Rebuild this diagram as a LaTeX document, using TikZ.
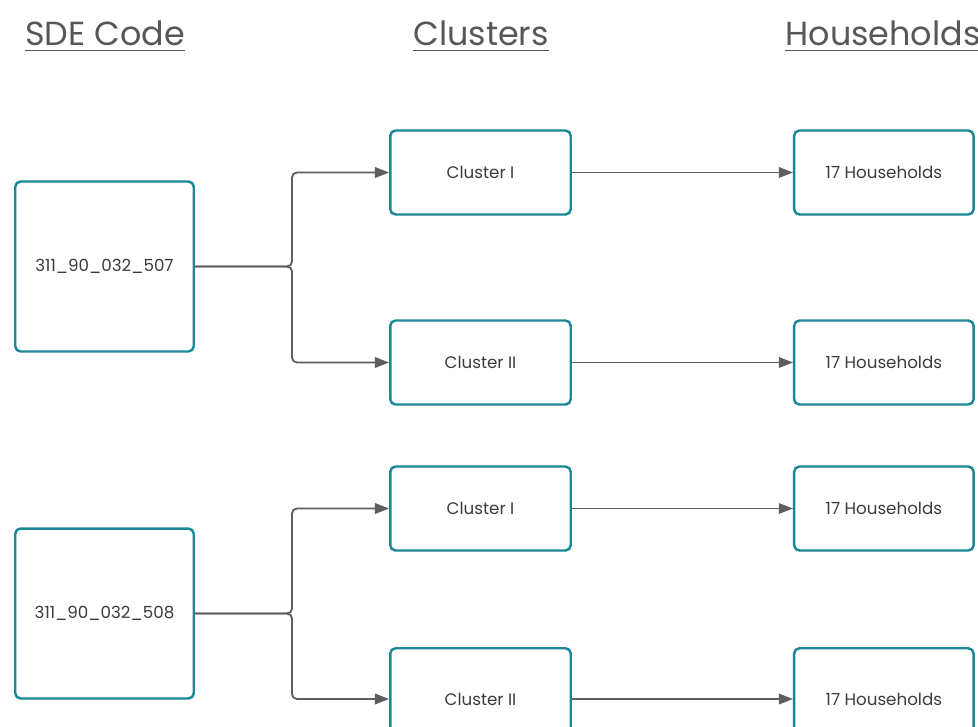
\documentclass[tikz,border=0pt]{standalone}
\usepackage{fontspec}
\setmainfont{Poppins}
\usetikzlibrary{arrows.meta,positioning}

\definecolor{boxteal}{HTML}{1B8797}
\definecolor{boxtext}{HTML}{3C3C3C}
\definecolor{headgray}{HTML}{575757}
\definecolor{arrowgray}{HTML}{5E5E5E}

\begin{document}
\begin{tikzpicture}
		[x=0.02cm, y=-0.02cm,
		box/.style={draw=boxteal, line width=1.4pt, rounded corners=3pt,
			fill=white, text=boxtext, inner sep=0pt,
			font=\fontsize{9.5}{11}\selectfont},
		sdebox/.style={box, minimum width=3.57cm, minimum height=3.4cm},
		clusterbox/.style={box, minimum width=3.61cm, minimum height=1.68cm},
		hhbox/.style={box, minimum width=3.59cm, minimum height=1.68cm},
		header/.style={anchor=base, inner sep=0pt, text=headgray,
			font=\fontsize{19}{22}\selectfont},
		uline/.style={draw=headgray, line width=1.1pt},
		link/.style={draw=arrowgray, line width=1.05pt, rounded corners=2.8pt,
			-{Triangle[length=8pt,width=6pt]}},
		thinlink/.style={link, line width=0.6pt}]
		\clip (0,0) rectangle (978,727);
		\fill[white] (0,0) rectangle (978,727);
		% column headers
		\node[header] (hdSde) at (105,45) {SDE Code};
		\node[header] (hdCluster) at (481,45) {Clusters};
		\node[header] (hdHouse) at (883,45) {Households};
		\foreach \h in {hdSde,hdCluster,hdHouse}
			\draw[uline] ([yshift=-0.11cm]\h.base west) -- ([yshift=-0.11cm]\h.base east);
		% first SDE code
		\node[sdebox] (sdeA) at (104.5,266.5) {311\_90\_032\_507};
		\node[clusterbox] (cA1) at (480.5,172.5) {Cluster I};
		\node[clusterbox] (cA2) at (480.5,362.5) {Cluster II};
		\node[hhbox, right=4.42cm of cA1] (hA1) {17 Households};
		\node[hhbox, right=4.42cm of cA2] (hA2) {17 Households};
		% second SDE code
		\node[sdebox] (sdeB) at (104.5,613.5) {311\_90\_032\_508};
		\node[clusterbox] (cB1) at (480.5,508.5) {Cluster I};
		\node[clusterbox, minimum height=2.03cm] (cB2) at (480.5,699) {Cluster II};
		\node[hhbox, right=4.42cm of cB1] (hB1) {17 Households};
		\node[hhbox, minimum height=2.03cm, right=4.42cm of cB2] (hB2) {17 Households};
		% branching
		\coordinate (jA) at (292,266.5);
		\coordinate (jB) at (292,613.5);
		\draw[link] (sdeA.east) -- (jA) |- (cA1.west);
		\draw[link] (sdeA.east) -- (jA) |- (cA2.west);
		\draw[link] (sdeB.east) -- (jB) |- (cB1.west);
		\draw[link] (sdeB.east) -- (jB) |- (cB2.west);
		\draw[link] (cA1) -- (hA1);
		\draw[link] (cA2) -- (hA2);
		\draw[thinlink] (cB1) -- (hB1);
		\draw[link] (cB2) -- (hB2);
	\end{tikzpicture}
\end{document}
